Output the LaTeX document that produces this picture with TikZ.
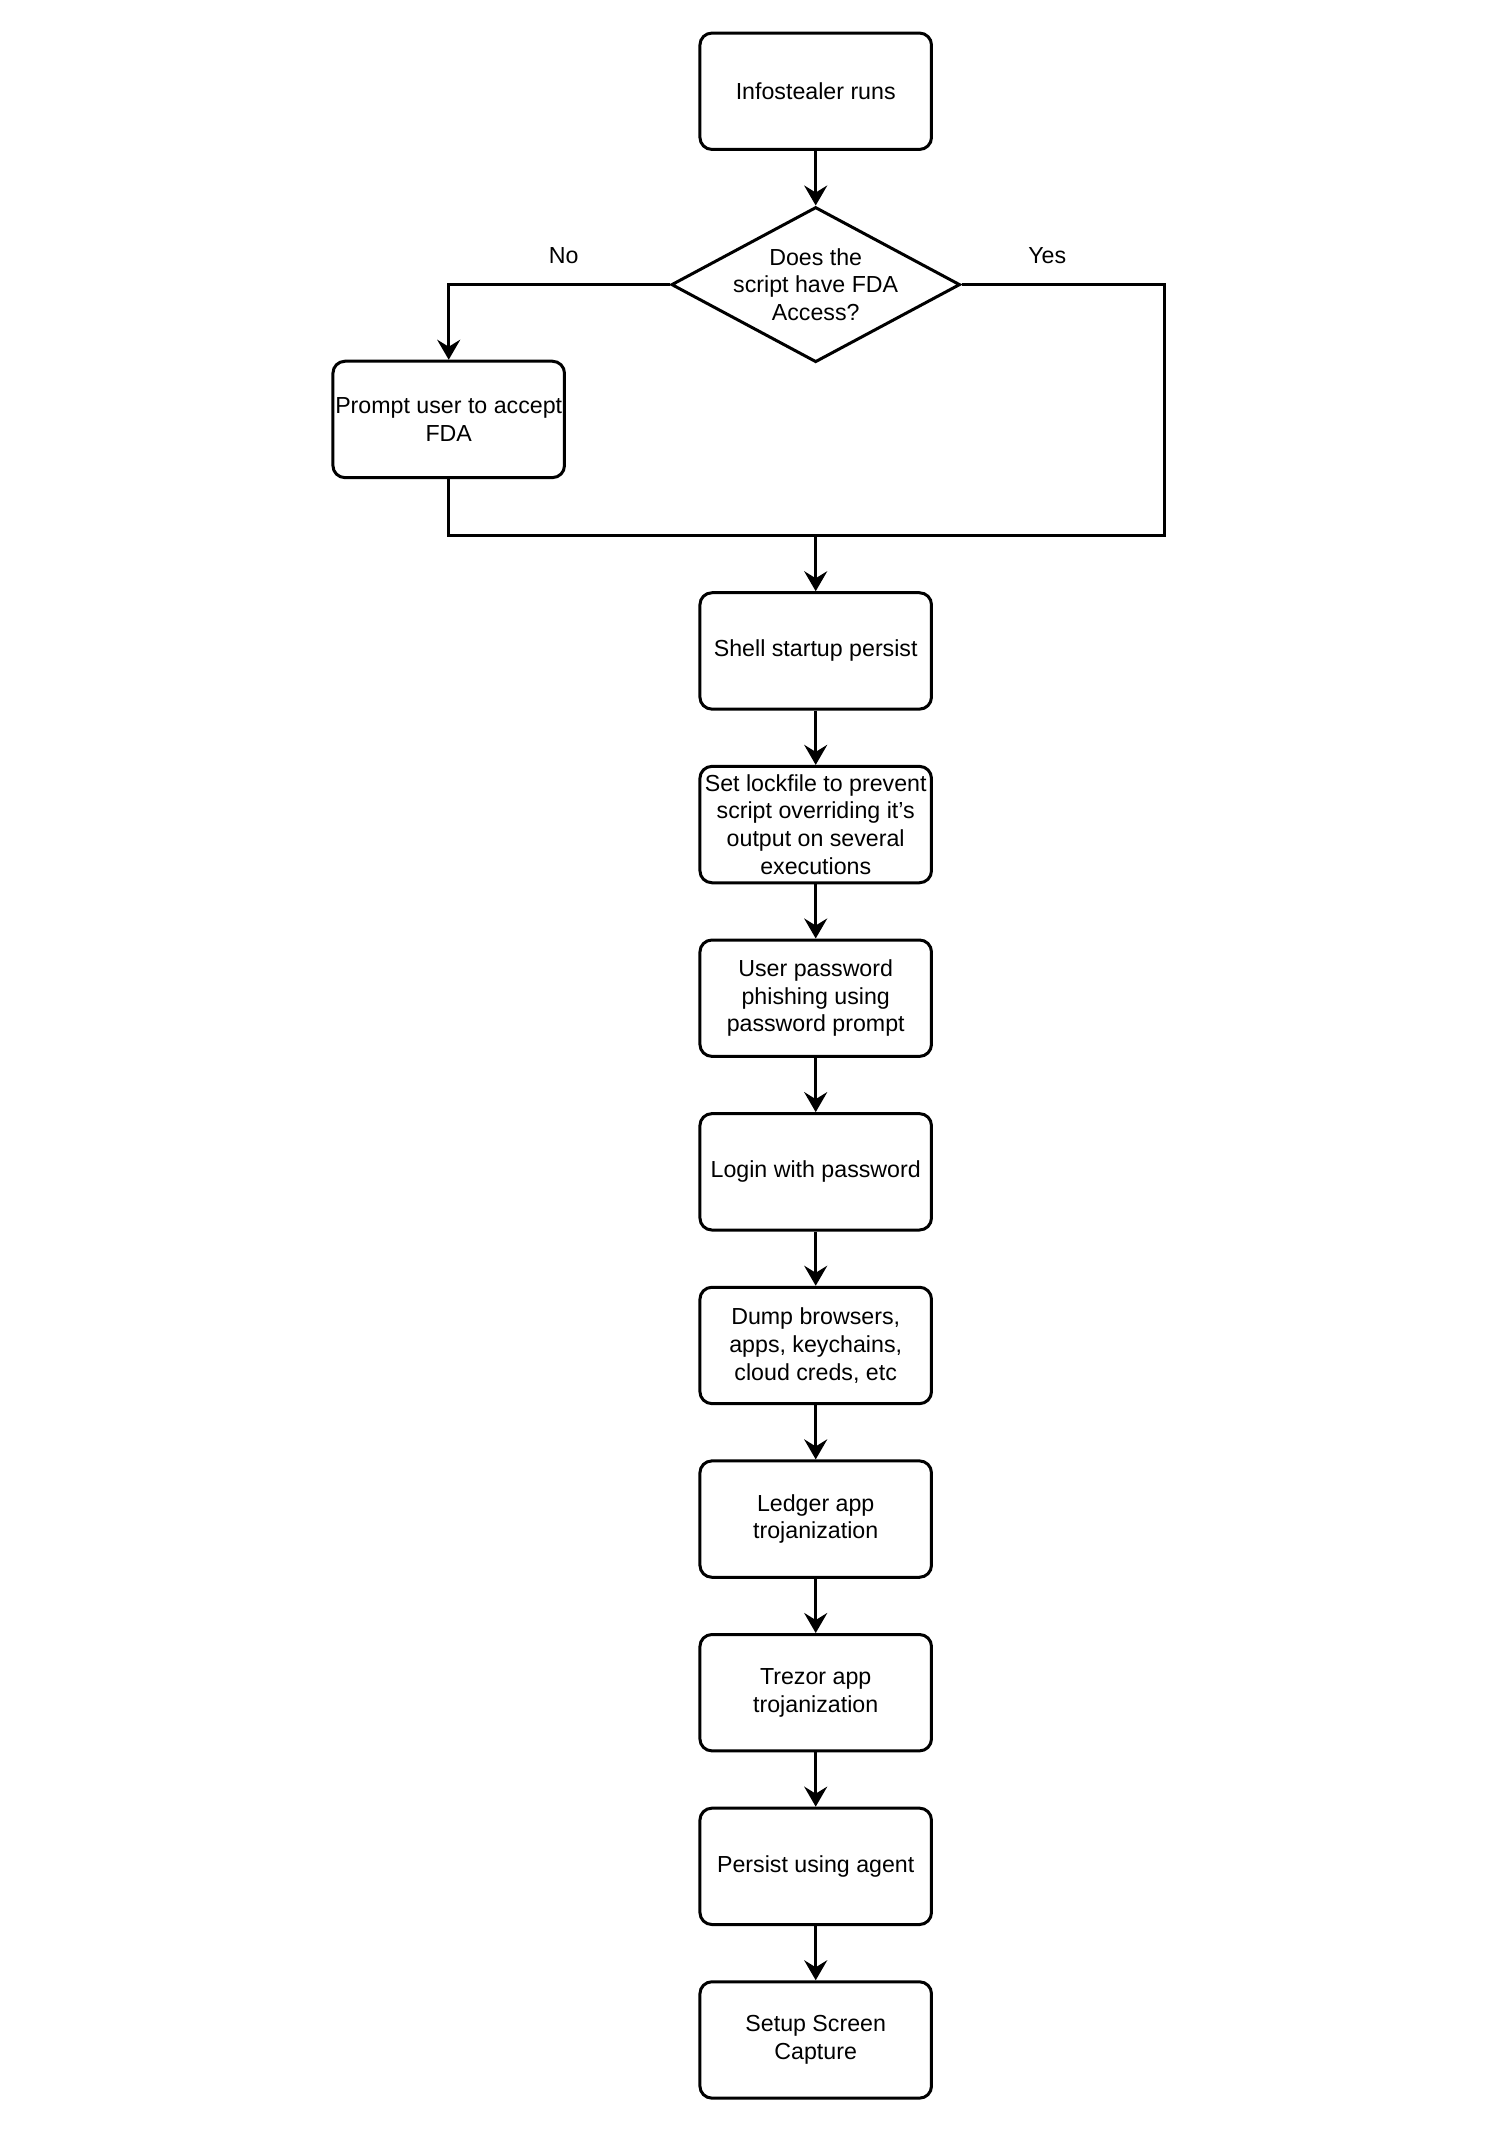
\documentclass[tikz,border=0pt]{standalone}
\usepackage{fontspec}
\setmainfont{Liberation Sans}
\usetikzlibrary{shapes.geometric,arrows.meta}
\newcommand{\diagfont}{\fontsize{11.6pt}{13.9pt}\selectfont}
\begin{document}
\begin{tikzpicture}[x=0.681pt,y=-0.681pt,
  box/.style={draw, rounded corners=6pt, line width=1.5pt, minimum width=115.8pt, minimum height=58.2pt, inner sep=0pt, align=center, font=\diagfont},
  decision/.style={draw, diamond, line width=1.5pt, minimum width=144.4pt, minimum height=77.6pt, inner sep=0pt},
  lbl/.style={font=\diagfont, inner sep=0pt},
  conn/.style={line width=1.5pt, line join=miter},
  arr/.style={conn, -{Stealth[length=10pt,width=11.5pt,inset=3.5pt]}},
]
\useasboundingbox (0,0) rectangle (1100,1565.6);

\node[box] (start) at (599,67) {Infostealer runs};
\node[decision, label={[lbl,align=center]center:Does the\\script have FDA\\Access?}] (dec) at (599,209) {};
\node[box] (prompt) at (329.5,308) {Prompt user to accept\\FDA};
\node[box] (shell) at (599,478) {Shell startup persist};
\node[box] (lock) at (599,605.5) {Set lockfile to prevent\\script overriding it's\\output on several\\executions};
\node[box] (user) at (599,733) {User password\\phishing using\\password prompt};
\node[box] (login) at (599,860.5) {Login with password};
\node[box] (dump) at (599,988) {Dump browsers,\\apps, keychains,\\cloud creds, etc};
\node[box] (ledger) at (599,1115.5) {Ledger app\\trojanization};
\node[box] (trezor) at (599,1243) {Trezor app\\trojanization};
\node[box] (persist) at (599,1370.5) {Persist using agent};
\node[box] (setup) at (599,1498) {Setup Screen\\Capture};

\node[lbl] (no) at (414,188) {No};
\node[lbl] (yes) at (769,188) {Yes};

\coordinate (merge) at (599,393);
\coordinate (rc) at (855,393);

\draw[arr] (start) -- (dec.north);
\draw[arr] (dec.west) -| (prompt.north);
\draw[conn] (dec.east) -| (rc) -- (merge);
\draw[conn] (prompt.south) |- (merge);
\draw[arr] (merge) -- (shell.north);
\draw[arr] (shell) -- (lock);
\draw[arr] (lock) -- (user);
\draw[arr] (user) -- (login);
\draw[arr] (login) -- (dump);
\draw[arr] (dump) -- (ledger);
\draw[arr] (ledger) -- (trezor);
\draw[arr] (trezor) -- (persist);
\draw[arr] (persist) -- (setup);
\end{tikzpicture}
\end{document}
